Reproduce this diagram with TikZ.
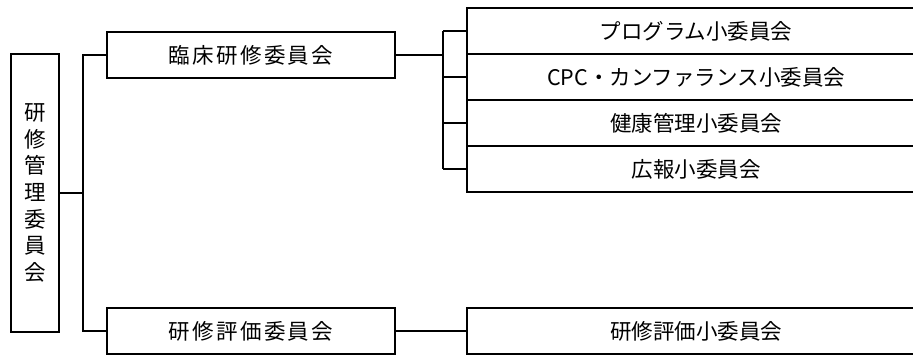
\documentclass[tikz,border=0pt]{standalone}
\usepackage{fontspec}
\newfontfamily\cjk{Noto Sans CJK JP}
\newfontfamily\cjkwide[LetterSpace=11]{Noto Sans CJK JP}
\usetikzlibrary{positioning}

\begin{document}
\begin{tikzpicture}[
    x=1pt, y=-1pt,
    node distance=0pt,
    box/.style={rectangle, draw=black, line width=1.2pt, outer sep=0pt, inner sep=0pt,
                font=\cjk\fontsize{21.5}{26}\selectfont},
    iinkai/.style={box, minimum width=288pt, minimum height=46pt,
                   font=\cjkwide\fontsize{21.5}{26}\selectfont},
    shoiin/.style={box, minimum width=458pt, minimum height=46pt},
    line/.style={line width=1.2pt, black}
  ]
    \useasboundingbox (0,0) rectangle (913,356);
    % top committee, vertical text
    \node[box, minimum width=48pt, minimum height=278pt, align=center,
          font=\cjk\fontsize{21.5}{26.7}\selectfont] (kanri) at (35,193)
          {研\\修\\管\\理\\委\\員\\会};
    % committees
    \node[iinkai] (rinsho) at (251,55) {臨床研修委員会};
    \node[iinkai] (hyoka) at (251,331) {研修評価委員会};
    % sub committees
    \node[shoiin] (program) at (696,31) {プログラム小委員会};
    \node[shoiin, below=of program] (cpc) {CPC・カンファランス小委員会};
    \node[shoiin, below=of cpc] (kenko) {健康管理小委員会};
    \node[shoiin, below=of kenko] (koho) {広報小委員会};
    \node[shoiin] (shohyoka) at (696,331) {研修評価小委員会};
    % buses
    \coordinate (busL) at (83,0);
    \coordinate (busR) at (443,0);
    \draw[line] (kanri.east) -- (kanri.east -| busL);
    \draw[line] (rinsho.west) -- (rinsho.west -| busL) -- (hyoka.west -| busL) -- (hyoka.west);
    \draw[line] (rinsho.east) -- (rinsho.east -| busR);
    \draw[line] (program.west -| busR) -- (koho.west -| busR);
    \foreach \sub in {program, cpc, kenko, koho}
      \draw[line] (\sub.west -| busR) -- (\sub.west);
    \draw[line] (hyoka.east) -- (shohyoka.west);
\end{tikzpicture}
\end{document}
